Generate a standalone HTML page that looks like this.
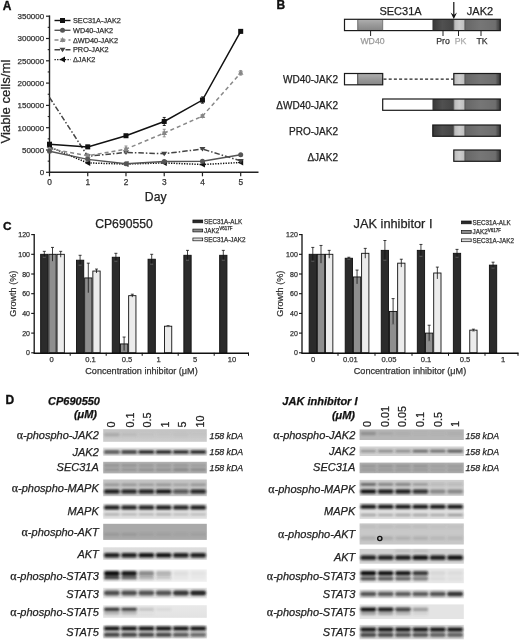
<!DOCTYPE html>
<html><head><meta charset="utf-8"><style>
html,body{margin:0;padding:0;background:#fff;}
svg{display:block;filter:grayscale(1);font-family:"Liberation Sans", sans-serif;}
</style></head><body>
<svg width="520" height="640" viewBox="0 0 520 640">
<defs>
<filter id="blur" x="-20%" y="-50%" width="140%" height="200%"><feGaussianBlur stdDeviation="0.85"/></filter>
<linearGradient id="gWD" x1="0" y1="0" x2="0" y2="1"><stop offset="0" stop-color="#b0b0b0"/><stop offset="0.5" stop-color="#999"/><stop offset="1" stop-color="#868686"/></linearGradient>
<linearGradient id="gPro" x1="0" y1="0" x2="1" y2="0"><stop offset="0" stop-color="#383838"/><stop offset="0.45" stop-color="#505050"/><stop offset="1" stop-color="#444"/></linearGradient>
<linearGradient id="gPK" x1="0" y1="0" x2="1" y2="0"><stop offset="0" stop-color="#b8b8b8"/><stop offset="0.5" stop-color="#cdcdcd"/><stop offset="1" stop-color="#bdbdbd"/></linearGradient>
<linearGradient id="gTK" x1="0" y1="0" x2="1" y2="0"><stop offset="0" stop-color="#666"/><stop offset="0.45" stop-color="#767676"/><stop offset="0.86" stop-color="#6e6e6e"/><stop offset="0.93" stop-color="#505050"/><stop offset="1" stop-color="#3a3a3a"/></linearGradient>
</defs>
<text x="2.80" y="9.90" font-size="12" text-anchor="start" fill="#111" font-weight="bold" font-style="normal" stroke="#111" stroke-width="0.35">A</text>
<line x1="49.50" y1="15.40" x2="49.50" y2="172.90" stroke="#222" stroke-width="1.4" />
<line x1="48.90" y1="172.30" x2="258.50" y2="172.30" stroke="#222" stroke-width="1.4" />
<line x1="46.00" y1="172.30" x2="49.50" y2="172.30" stroke="#222" stroke-width="1.2" />
<text x="44.20" y="175.15" font-size="8" text-anchor="end" fill="#333" font-weight="normal" font-style="normal"  stroke="#333" stroke-width="0.25">0</text>
<line x1="47.70" y1="161.15" x2="49.50" y2="161.15" stroke="#222" stroke-width="1.1" />
<line x1="46.00" y1="150.00" x2="49.50" y2="150.00" stroke="#222" stroke-width="1.2" />
<text x="44.20" y="152.85" font-size="8" text-anchor="end" fill="#333" font-weight="normal" font-style="normal"  stroke="#333" stroke-width="0.25">50000</text>
<line x1="47.70" y1="138.85" x2="49.50" y2="138.85" stroke="#222" stroke-width="1.1" />
<line x1="46.00" y1="127.70" x2="49.50" y2="127.70" stroke="#222" stroke-width="1.2" />
<text x="44.20" y="130.55" font-size="8" text-anchor="end" fill="#333" font-weight="normal" font-style="normal"  stroke="#333" stroke-width="0.25">100000</text>
<line x1="47.70" y1="116.55" x2="49.50" y2="116.55" stroke="#222" stroke-width="1.1" />
<line x1="46.00" y1="105.40" x2="49.50" y2="105.40" stroke="#222" stroke-width="1.2" />
<text x="44.20" y="108.25" font-size="8" text-anchor="end" fill="#333" font-weight="normal" font-style="normal"  stroke="#333" stroke-width="0.25">150000</text>
<line x1="47.70" y1="94.25" x2="49.50" y2="94.25" stroke="#222" stroke-width="1.1" />
<line x1="46.00" y1="83.10" x2="49.50" y2="83.10" stroke="#222" stroke-width="1.2" />
<text x="44.20" y="85.95" font-size="8" text-anchor="end" fill="#333" font-weight="normal" font-style="normal"  stroke="#333" stroke-width="0.25">200000</text>
<line x1="47.70" y1="71.95" x2="49.50" y2="71.95" stroke="#222" stroke-width="1.1" />
<line x1="46.00" y1="60.80" x2="49.50" y2="60.80" stroke="#222" stroke-width="1.2" />
<text x="44.20" y="63.65" font-size="8" text-anchor="end" fill="#333" font-weight="normal" font-style="normal"  stroke="#333" stroke-width="0.25">250000</text>
<line x1="47.70" y1="49.65" x2="49.50" y2="49.65" stroke="#222" stroke-width="1.1" />
<line x1="46.00" y1="38.50" x2="49.50" y2="38.50" stroke="#222" stroke-width="1.2" />
<text x="44.20" y="41.35" font-size="8" text-anchor="end" fill="#333" font-weight="normal" font-style="normal"  stroke="#333" stroke-width="0.25">300000</text>
<line x1="47.70" y1="27.35" x2="49.50" y2="27.35" stroke="#222" stroke-width="1.1" />
<line x1="46.00" y1="16.20" x2="49.50" y2="16.20" stroke="#222" stroke-width="1.2" />
<text x="44.20" y="19.05" font-size="8" text-anchor="end" fill="#333" font-weight="normal" font-style="normal"  stroke="#333" stroke-width="0.25">350000</text>
<line x1="49.50" y1="172.30" x2="49.50" y2="176.30" stroke="#222" stroke-width="1.2" />
<text x="49.50" y="184.50" font-size="8.3" text-anchor="middle" fill="#333" font-weight="normal" font-style="normal"  stroke="#333" stroke-width="0.25">0</text>
<line x1="87.74" y1="172.30" x2="87.74" y2="176.30" stroke="#222" stroke-width="1.2" />
<text x="87.74" y="184.50" font-size="8.3" text-anchor="middle" fill="#333" font-weight="normal" font-style="normal"  stroke="#333" stroke-width="0.25">1</text>
<line x1="125.98" y1="172.30" x2="125.98" y2="176.30" stroke="#222" stroke-width="1.2" />
<text x="125.98" y="184.50" font-size="8.3" text-anchor="middle" fill="#333" font-weight="normal" font-style="normal"  stroke="#333" stroke-width="0.25">2</text>
<line x1="164.22" y1="172.30" x2="164.22" y2="176.30" stroke="#222" stroke-width="1.2" />
<text x="164.22" y="184.50" font-size="8.3" text-anchor="middle" fill="#333" font-weight="normal" font-style="normal"  stroke="#333" stroke-width="0.25">3</text>
<line x1="202.46" y1="172.30" x2="202.46" y2="176.30" stroke="#222" stroke-width="1.2" />
<text x="202.46" y="184.50" font-size="8.3" text-anchor="middle" fill="#333" font-weight="normal" font-style="normal"  stroke="#333" stroke-width="0.25">4</text>
<line x1="240.70" y1="172.30" x2="240.70" y2="176.30" stroke="#222" stroke-width="1.2" />
<text x="240.70" y="184.50" font-size="8.3" text-anchor="middle" fill="#333" font-weight="normal" font-style="normal"  stroke="#333" stroke-width="0.25">5</text>
<text x="155.70" y="201.30" font-size="12.2" text-anchor="middle" fill="#222" font-weight="normal" font-style="normal"  stroke="#222" stroke-width="0.25">Day</text>
<text transform="translate(10.2,101.6) rotate(-90)" font-size="13.2" text-anchor="middle" fill="#222" stroke="#222" stroke-width="0.25">Viable cells/ml</text>
<polyline points="49.50,146.88 87.74,162.93 125.98,164.05 164.22,162.93 202.46,164.50 240.70,162.49" fill="none" stroke="#111" stroke-width="1.5" stroke-dasharray="1.3,1.3"/>
<path d="M46.50,146.88 L52.00,143.88 L52.00,149.88Z" fill="#111"/>
<path d="M84.74,162.93 L90.24,159.93 L90.24,165.93Z" fill="#111"/>
<path d="M122.98,164.05 L128.48,161.05 L128.48,167.05Z" fill="#111"/>
<path d="M161.22,162.93 L166.72,159.93 L166.72,165.93Z" fill="#111"/>
<path d="M199.46,164.50 L204.96,161.50 L204.96,167.50Z" fill="#111"/>
<path d="M237.70,162.49 L243.20,159.49 L243.20,165.49Z" fill="#111"/>
<polyline points="49.50,97.37 87.74,156.24 125.98,152.45 164.22,153.70 202.46,149.02 240.70,160.88" fill="none" stroke="#444" stroke-width="1.5" stroke-dasharray="5.5,2,1.5,2"/>
<path d="M84.74,154.24 L90.74,154.24 L87.74,158.74Z" fill="#444"/>
<path d="M122.98,150.45 L128.98,150.45 L125.98,154.95Z" fill="#444"/>
<path d="M161.22,151.70 L167.22,151.70 L164.22,156.20Z" fill="#444"/>
<path d="M199.46,147.02 L205.46,147.02 L202.46,151.52Z" fill="#444"/>
<path d="M237.70,158.88 L243.70,158.88 L240.70,163.38Z" fill="#444"/>
<polyline points="49.50,148.66 87.74,155.80 125.98,149.11 164.22,133.05 202.46,116.10 240.70,72.84" fill="none" stroke="#888" stroke-width="1.5" stroke-dasharray="4,3"/>
<path d="M49.50,145.66 L52.30,150.66 L46.70,150.66Z" fill="#888"/>
<path d="M49.50,151.46 L52.00,147.16 L47.00,147.16Z" fill="#888" opacity="0.7"/>
<line x1="87.74" y1="154.01" x2="87.74" y2="157.58" stroke="#888" stroke-width="0.9" />
<line x1="86.24" y1="154.01" x2="89.24" y2="154.01" stroke="#888" stroke-width="0.9" />
<line x1="86.24" y1="157.58" x2="89.24" y2="157.58" stroke="#888" stroke-width="0.9" />
<path d="M87.74,152.80 L90.54,157.80 L84.94,157.80Z" fill="#888"/>
<path d="M87.74,158.60 L90.24,154.30 L85.24,154.30Z" fill="#888" opacity="0.7"/>
<line x1="125.98" y1="145.99" x2="125.98" y2="152.23" stroke="#888" stroke-width="0.9" />
<line x1="124.48" y1="145.99" x2="127.48" y2="145.99" stroke="#888" stroke-width="0.9" />
<line x1="124.48" y1="152.23" x2="127.48" y2="152.23" stroke="#888" stroke-width="0.9" />
<path d="M125.98,146.11 L128.78,151.11 L123.18,151.11Z" fill="#888"/>
<path d="M125.98,151.91 L128.48,147.61 L123.48,147.61Z" fill="#888" opacity="0.7"/>
<line x1="164.22" y1="129.26" x2="164.22" y2="136.84" stroke="#888" stroke-width="0.9" />
<line x1="162.72" y1="129.26" x2="165.72" y2="129.26" stroke="#888" stroke-width="0.9" />
<line x1="162.72" y1="136.84" x2="165.72" y2="136.84" stroke="#888" stroke-width="0.9" />
<path d="M164.22,130.05 L167.02,135.05 L161.42,135.05Z" fill="#888"/>
<path d="M164.22,135.85 L166.72,131.55 L161.72,131.55Z" fill="#888" opacity="0.7"/>
<line x1="202.46" y1="114.77" x2="202.46" y2="117.44" stroke="#888" stroke-width="0.9" />
<line x1="200.96" y1="114.77" x2="203.96" y2="114.77" stroke="#888" stroke-width="0.9" />
<line x1="200.96" y1="117.44" x2="203.96" y2="117.44" stroke="#888" stroke-width="0.9" />
<path d="M202.46,113.10 L205.26,118.10 L199.66,118.10Z" fill="#888"/>
<path d="M202.46,118.90 L204.96,114.60 L199.96,114.60Z" fill="#888" opacity="0.7"/>
<line x1="240.70" y1="70.61" x2="240.70" y2="75.07" stroke="#888" stroke-width="0.9" />
<line x1="239.20" y1="70.61" x2="242.20" y2="70.61" stroke="#888" stroke-width="0.9" />
<line x1="239.20" y1="75.07" x2="242.20" y2="75.07" stroke="#888" stroke-width="0.9" />
<path d="M240.70,69.84 L243.50,74.84 L237.90,74.84Z" fill="#888"/>
<path d="M240.70,75.64 L243.20,71.34 L238.20,71.34Z" fill="#888" opacity="0.7"/>
<polyline points="49.50,151.34 87.74,159.37 125.98,163.83 164.22,161.60 202.46,161.15 240.70,154.68" fill="none" stroke="#555" stroke-width="1.5" />
<circle cx="49.50" cy="151.34" r="2.5" fill="#555"/>
<circle cx="87.74" cy="159.37" r="2.5" fill="#555"/>
<circle cx="125.98" cy="163.83" r="2.5" fill="#555"/>
<circle cx="164.22" cy="161.60" r="2.5" fill="#555"/>
<circle cx="202.46" cy="161.15" r="2.5" fill="#555"/>
<circle cx="240.70" cy="154.68" r="2.5" fill="#555"/>
<polyline points="49.50,144.20 87.74,146.88 125.98,135.73 164.22,121.46 202.46,100.05 240.70,31.36" fill="none" stroke="#111" stroke-width="1.5" />
<rect x="47.00" y="141.70" width="5.00" height="5.00" fill="#111" stroke="none" stroke-width="1" />
<line x1="87.74" y1="145.32" x2="87.74" y2="148.44" stroke="#111" stroke-width="0.9" />
<line x1="86.24" y1="145.32" x2="89.24" y2="145.32" stroke="#111" stroke-width="0.9" />
<line x1="86.24" y1="148.44" x2="89.24" y2="148.44" stroke="#111" stroke-width="0.9" />
<rect x="85.24" y="144.38" width="5.00" height="5.00" fill="#111" stroke="none" stroke-width="1" />
<line x1="125.98" y1="134.61" x2="125.98" y2="136.84" stroke="#111" stroke-width="0.9" />
<line x1="124.48" y1="134.61" x2="127.48" y2="134.61" stroke="#111" stroke-width="0.9" />
<line x1="124.48" y1="136.84" x2="127.48" y2="136.84" stroke="#111" stroke-width="0.9" />
<rect x="123.48" y="133.23" width="5.00" height="5.00" fill="#111" stroke="none" stroke-width="1" />
<line x1="164.22" y1="117.44" x2="164.22" y2="125.47" stroke="#111" stroke-width="0.9" />
<line x1="162.72" y1="117.44" x2="165.72" y2="117.44" stroke="#111" stroke-width="0.9" />
<line x1="162.72" y1="125.47" x2="165.72" y2="125.47" stroke="#111" stroke-width="0.9" />
<rect x="161.72" y="118.96" width="5.00" height="5.00" fill="#111" stroke="none" stroke-width="1" />
<line x1="202.46" y1="96.93" x2="202.46" y2="103.17" stroke="#111" stroke-width="0.9" />
<line x1="200.96" y1="96.93" x2="203.96" y2="96.93" stroke="#111" stroke-width="0.9" />
<line x1="200.96" y1="103.17" x2="203.96" y2="103.17" stroke="#111" stroke-width="0.9" />
<rect x="199.96" y="97.55" width="5.00" height="5.00" fill="#111" stroke="none" stroke-width="1" />
<line x1="240.70" y1="30.03" x2="240.70" y2="32.70" stroke="#111" stroke-width="0.9" />
<line x1="239.20" y1="30.03" x2="242.20" y2="30.03" stroke="#111" stroke-width="0.9" />
<line x1="239.20" y1="32.70" x2="242.20" y2="32.70" stroke="#111" stroke-width="0.9" />
<rect x="238.20" y="28.86" width="5.00" height="5.00" fill="#111" stroke="none" stroke-width="1" />
<line x1="54.5" y1="20.5" x2="70.5" y2="20.5" stroke="#111" stroke-width="1.4" />
<rect x="60.00" y="18.00" width="5.00" height="5.00" fill="#111" stroke="none" stroke-width="1" />
<text x="73.00" y="23.10" font-size="7.3" text-anchor="start" fill="#333" font-weight="normal" font-style="normal"  stroke="#333" stroke-width="0.25">SEC31A-JAK2</text>
<line x1="54.5" y1="30.3" x2="70.5" y2="30.3" stroke="#555" stroke-width="1.4" />
<circle cx="62.50" cy="30.30" r="2.5" fill="#555"/>
<text x="73.00" y="32.90" font-size="7.3" text-anchor="start" fill="#333" font-weight="normal" font-style="normal"  stroke="#333" stroke-width="0.25">WD40-JAK2</text>
<line x1="54.5" y1="40.0" x2="70.5" y2="40.0" stroke="#888" stroke-width="1.4" stroke-dasharray="4,3"/>
<path d="M62.50,37.00 L65.30,42.00 L59.70,42.00Z" fill="#888"/>
<path d="M62.50,42.80 L65.00,38.50 L60.00,38.50Z" fill="#888" opacity="0.7"/>
<text x="73.00" y="42.60" font-size="7.3" text-anchor="start" fill="#333" font-weight="normal" font-style="normal"  stroke="#333" stroke-width="0.25">ΔWD40-JAK2</text>
<line x1="54.5" y1="49.8" x2="70.5" y2="49.8" stroke="#444" stroke-width="1.4" stroke-dasharray="5.5,2,1.5,2"/>
<path d="M59.50,47.80 L65.50,47.80 L62.50,52.30Z" fill="#444"/>
<text x="73.00" y="52.40" font-size="7.3" text-anchor="start" fill="#333" font-weight="normal" font-style="normal"  stroke="#333" stroke-width="0.25">PRO-JAK2</text>
<line x1="54.5" y1="59.6" x2="70.5" y2="59.6" stroke="#111" stroke-width="1.4" stroke-dasharray="1.3,1.3"/>
<path d="M59.50,59.60 L65.00,56.60 L65.00,62.60Z" fill="#111"/>
<text x="73.00" y="62.20" font-size="7.3" text-anchor="start" fill="#333" font-weight="normal" font-style="normal"  stroke="#333" stroke-width="0.25">ΔJAK2</text>
<text x="276.60" y="8.60" font-size="12" text-anchor="start" fill="#111" font-weight="bold" font-style="normal" stroke="#111" stroke-width="0.35">B</text>
<rect x="344.50" y="19.30" width="13.20" height="11.30" fill="#fff" stroke="none" stroke-width="1" />
<rect x="357.70" y="19.30" width="25.00" height="11.30" fill="url(#gWD)" stroke="none" stroke-width="1" />
<rect x="382.70" y="19.30" width="50.10" height="11.30" fill="#fff" stroke="none" stroke-width="1" />
<rect x="432.80" y="19.30" width="21.00" height="11.30" fill="url(#gPro)" stroke="none" stroke-width="1" />
<rect x="453.80" y="19.30" width="11.00" height="11.30" fill="url(#gPK)" stroke="none" stroke-width="1" />
<rect x="464.80" y="19.30" width="35.50" height="11.30" fill="url(#gTK)" stroke="none" stroke-width="1" />
<rect x="344.50" y="19.30" width="155.80" height="11.30" fill="none" stroke="#1a1a1a" stroke-width="1.2" />
<line x1="357.70" y1="19.30" x2="357.70" y2="30.60" stroke="#333" stroke-width="0.6" />
<line x1="382.70" y1="19.30" x2="382.70" y2="30.60" stroke="#333" stroke-width="0.6" />
<line x1="432.80" y1="19.30" x2="432.80" y2="30.60" stroke="#333" stroke-width="0.6" />
<line x1="453.80" y1="19.30" x2="453.80" y2="30.60" stroke="#333" stroke-width="0.6" />
<line x1="464.80" y1="19.30" x2="464.80" y2="30.60" stroke="#333" stroke-width="0.6" />
<rect x="344.50" y="73.50" width="13.20" height="11.30" fill="#fff" stroke="none" stroke-width="1" />
<rect x="357.70" y="73.50" width="25.00" height="11.30" fill="url(#gWD)" stroke="none" stroke-width="1" />
<rect x="453.80" y="73.50" width="11.00" height="11.30" fill="url(#gPK)" stroke="none" stroke-width="1" />
<rect x="464.80" y="73.50" width="35.50" height="11.30" fill="url(#gTK)" stroke="none" stroke-width="1" />
<rect x="344.50" y="73.50" width="38.20" height="11.30" fill="none" stroke="#1a1a1a" stroke-width="1.2" />
<line x1="357.70" y1="73.50" x2="357.70" y2="84.80" stroke="#222" stroke-width="0.8" />
<rect x="453.80" y="73.50" width="46.50" height="11.30" fill="none" stroke="#1a1a1a" stroke-width="1.2" />
<line x1="464.80" y1="73.50" x2="464.80" y2="84.80" stroke="#333" stroke-width="0.6" />
<line x1="383.50" y1="79.15" x2="453.30" y2="79.15" stroke="#222" stroke-width="1.2" stroke-dasharray="3,2.2"/>
<rect x="382.70" y="99.00" width="50.10" height="11.30" fill="#fff" stroke="none" stroke-width="1" />
<rect x="432.80" y="99.00" width="21.00" height="11.30" fill="url(#gPro)" stroke="none" stroke-width="1" />
<rect x="453.80" y="99.00" width="11.00" height="11.30" fill="url(#gPK)" stroke="none" stroke-width="1" />
<rect x="464.80" y="99.00" width="35.50" height="11.30" fill="url(#gTK)" stroke="none" stroke-width="1" />
<rect x="382.70" y="99.00" width="117.60" height="11.30" fill="none" stroke="#1a1a1a" stroke-width="1.2" />
<line x1="432.80" y1="99.00" x2="432.80" y2="110.30" stroke="#333" stroke-width="0.6" />
<line x1="453.80" y1="99.00" x2="453.80" y2="110.30" stroke="#333" stroke-width="0.6" />
<line x1="464.80" y1="99.00" x2="464.80" y2="110.30" stroke="#333" stroke-width="0.6" />
<rect x="432.80" y="125.00" width="21.00" height="11.30" fill="url(#gPro)" stroke="none" stroke-width="1" />
<rect x="453.80" y="125.00" width="11.00" height="11.30" fill="url(#gPK)" stroke="none" stroke-width="1" />
<rect x="464.80" y="125.00" width="35.50" height="11.30" fill="url(#gTK)" stroke="none" stroke-width="1" />
<rect x="432.80" y="125.00" width="67.50" height="11.30" fill="none" stroke="#1a1a1a" stroke-width="1.2" />
<line x1="453.80" y1="125.00" x2="453.80" y2="136.30" stroke="#333" stroke-width="0.6" />
<line x1="464.80" y1="125.00" x2="464.80" y2="136.30" stroke="#333" stroke-width="0.6" />
<rect x="453.80" y="150.00" width="11.00" height="11.30" fill="url(#gPK)" stroke="none" stroke-width="1" />
<rect x="464.80" y="150.00" width="35.50" height="11.30" fill="url(#gTK)" stroke="none" stroke-width="1" />
<rect x="453.80" y="150.00" width="46.50" height="11.30" fill="none" stroke="#1a1a1a" stroke-width="1.2" />
<line x1="464.80" y1="150.00" x2="464.80" y2="161.30" stroke="#333" stroke-width="0.6" />
<text x="400.50" y="15.00" font-size="11" text-anchor="middle" fill="#222" font-weight="normal" font-style="normal"  stroke="#222" stroke-width="0.25">SEC31A</text>
<text x="480.00" y="15.00" font-size="11" text-anchor="middle" fill="#222" font-weight="normal" font-style="normal"  stroke="#222" stroke-width="0.25">JAK2</text>
<line x1="453.80" y1="2.00" x2="453.80" y2="16.00" stroke="#111" stroke-width="1.2" />
<path d="M450.6,12.5 L453.8,19 L457,12.5 L453.8,15Z" fill="#111"/>
<line x1="370.60" y1="30.60" x2="370.60" y2="36.00" stroke="#222" stroke-width="1" />
<line x1="443.00" y1="30.60" x2="443.00" y2="36.00" stroke="#222" stroke-width="1" />
<line x1="458.50" y1="30.60" x2="458.50" y2="36.00" stroke="#222" stroke-width="1" />
<line x1="481.00" y1="30.60" x2="481.00" y2="36.00" stroke="#222" stroke-width="1" />
<text x="372.50" y="44.30" font-size="8.7" text-anchor="middle" fill="#999" font-weight="normal" font-style="normal"  stroke="#999" stroke-width="0.25">WD40</text>
<text x="443.00" y="44.30" font-size="8.7" text-anchor="middle" fill="#333" font-weight="normal" font-style="normal"  stroke="#333" stroke-width="0.25">Pro</text>
<text x="460.50" y="44.30" font-size="8.7" text-anchor="middle" fill="#aaa" font-weight="normal" font-style="normal"  stroke="#aaa" stroke-width="0.25">PK</text>
<text x="482.00" y="44.30" font-size="8.7" text-anchor="middle" fill="#333" font-weight="normal" font-style="normal"  stroke="#333" stroke-width="0.25">TK</text>
<text x="338.00" y="83.10" font-size="10" text-anchor="end" fill="#222" font-weight="normal" font-style="normal"  stroke="#222" stroke-width="0.25">WD40-JAK2</text>
<text x="338.00" y="109.10" font-size="10" text-anchor="end" fill="#222" font-weight="normal" font-style="normal"  stroke="#222" stroke-width="0.25">ΔWD40-JAK2</text>
<text x="338.00" y="134.90" font-size="10" text-anchor="end" fill="#222" font-weight="normal" font-style="normal"  stroke="#222" stroke-width="0.25">PRO-JAK2</text>
<text x="338.00" y="160.60" font-size="10" text-anchor="end" fill="#222" font-weight="normal" font-style="normal"  stroke="#222" stroke-width="0.25">ΔJAK2</text>
<text x="3.00" y="229.60" font-size="11.8" text-anchor="start" fill="#111" font-weight="bold" font-style="normal" stroke="#111" stroke-width="0.35">C</text>
<rect x="40.65" y="254.30" width="7.30" height="98.50" fill="#2b2b2b" stroke="#111" stroke-width="0.9" />
<line x1="44.30" y1="251.34" x2="44.30" y2="257.25" stroke="#111" stroke-width="0.8" />
<line x1="42.80" y1="251.34" x2="45.80" y2="251.34" stroke="#111" stroke-width="0.8" />
<line x1="42.80" y1="257.25" x2="45.80" y2="257.25" stroke="#777" stroke-width="0.7" />
<rect x="48.85" y="254.30" width="7.30" height="98.50" fill="#8e8e8e" stroke="#111" stroke-width="0.9" />
<line x1="52.50" y1="247.41" x2="52.50" y2="261.19" stroke="#111" stroke-width="0.8" />
<line x1="51.00" y1="247.41" x2="54.00" y2="247.41" stroke="#111" stroke-width="0.8" />
<rect x="57.05" y="254.30" width="7.30" height="98.50" fill="#ececec" stroke="#111" stroke-width="0.9" />
<line x1="60.70" y1="251.34" x2="60.70" y2="257.25" stroke="#111" stroke-width="0.8" />
<line x1="59.20" y1="251.34" x2="62.20" y2="251.34" stroke="#111" stroke-width="0.8" />
<rect x="76.45" y="260.21" width="7.30" height="92.59" fill="#2b2b2b" stroke="#111" stroke-width="0.9" />
<line x1="80.10" y1="255.29" x2="80.10" y2="265.14" stroke="#111" stroke-width="0.8" />
<line x1="78.60" y1="255.29" x2="81.60" y2="255.29" stroke="#111" stroke-width="0.8" />
<line x1="78.60" y1="265.14" x2="81.60" y2="265.14" stroke="#777" stroke-width="0.7" />
<rect x="84.65" y="277.94" width="7.30" height="74.86" fill="#8e8e8e" stroke="#111" stroke-width="0.9" />
<line x1="88.30" y1="263.17" x2="88.30" y2="292.71" stroke="#111" stroke-width="0.8" />
<line x1="86.80" y1="263.17" x2="89.80" y2="263.17" stroke="#111" stroke-width="0.8" />
<rect x="92.85" y="271.05" width="7.30" height="81.75" fill="#ececec" stroke="#111" stroke-width="0.9" />
<line x1="96.50" y1="269.07" x2="96.50" y2="273.02" stroke="#111" stroke-width="0.8" />
<line x1="95.00" y1="269.07" x2="98.00" y2="269.07" stroke="#111" stroke-width="0.8" />
<rect x="112.25" y="257.25" width="7.30" height="95.55" fill="#2b2b2b" stroke="#111" stroke-width="0.9" />
<line x1="115.90" y1="253.31" x2="115.90" y2="261.19" stroke="#111" stroke-width="0.8" />
<line x1="114.40" y1="253.31" x2="117.40" y2="253.31" stroke="#111" stroke-width="0.8" />
<line x1="114.40" y1="261.19" x2="117.40" y2="261.19" stroke="#777" stroke-width="0.7" />
<rect x="120.45" y="343.94" width="7.30" height="8.87" fill="#8e8e8e" stroke="#111" stroke-width="0.9" />
<line x1="124.10" y1="337.04" x2="124.10" y2="350.83" stroke="#111" stroke-width="0.8" />
<line x1="122.60" y1="337.04" x2="125.60" y2="337.04" stroke="#111" stroke-width="0.8" />
<line x1="122.60" y1="350.83" x2="125.60" y2="350.83" stroke="#777" stroke-width="0.7" />
<rect x="128.65" y="295.67" width="7.30" height="57.13" fill="#ececec" stroke="#111" stroke-width="0.9" />
<line x1="132.30" y1="294.19" x2="132.30" y2="297.15" stroke="#111" stroke-width="0.8" />
<line x1="130.80" y1="294.19" x2="133.80" y2="294.19" stroke="#111" stroke-width="0.8" />
<rect x="148.05" y="259.23" width="7.30" height="93.58" fill="#2b2b2b" stroke="#111" stroke-width="0.9" />
<line x1="151.70" y1="254.30" x2="151.70" y2="264.15" stroke="#111" stroke-width="0.8" />
<line x1="150.20" y1="254.30" x2="153.20" y2="254.30" stroke="#111" stroke-width="0.8" />
<line x1="150.20" y1="264.15" x2="153.20" y2="264.15" stroke="#777" stroke-width="0.7" />
<rect x="164.45" y="326.21" width="7.30" height="26.59" fill="#ececec" stroke="#111" stroke-width="0.9" />
<line x1="168.10" y1="325.71" x2="168.10" y2="326.70" stroke="#111" stroke-width="0.8" />
<line x1="166.60" y1="325.71" x2="169.60" y2="325.71" stroke="#111" stroke-width="0.8" />
<line x1="166.60" y1="326.70" x2="169.60" y2="326.70" stroke="#777" stroke-width="0.7" />
<rect x="183.85" y="255.29" width="7.30" height="97.52" fill="#2b2b2b" stroke="#111" stroke-width="0.9" />
<line x1="187.50" y1="250.36" x2="187.50" y2="260.21" stroke="#111" stroke-width="0.8" />
<line x1="186.00" y1="250.36" x2="189.00" y2="250.36" stroke="#111" stroke-width="0.8" />
<line x1="186.00" y1="260.21" x2="189.00" y2="260.21" stroke="#777" stroke-width="0.7" />
<rect x="219.65" y="255.29" width="7.30" height="97.52" fill="#2b2b2b" stroke="#111" stroke-width="0.9" />
<line x1="223.30" y1="250.36" x2="223.30" y2="260.21" stroke="#111" stroke-width="0.8" />
<line x1="221.80" y1="250.36" x2="224.80" y2="250.36" stroke="#111" stroke-width="0.8" />
<line x1="221.80" y1="260.21" x2="224.80" y2="260.21" stroke="#777" stroke-width="0.7" />
<line x1="34.20" y1="234.10" x2="34.20" y2="353.40" stroke="#111" stroke-width="1.3" />
<line x1="33.60" y1="353.30" x2="249.00" y2="353.30" stroke="#111" stroke-width="1.5" />
<line x1="31.20" y1="352.80" x2="34.20" y2="352.80" stroke="#111" stroke-width="1.1" />
<text x="30.00" y="355.30" font-size="7" text-anchor="end" fill="#333" font-weight="normal" font-style="normal"  stroke="#333" stroke-width="0.25">0</text>
<line x1="31.20" y1="333.10" x2="34.20" y2="333.10" stroke="#111" stroke-width="1.1" />
<text x="30.00" y="335.60" font-size="7" text-anchor="end" fill="#333" font-weight="normal" font-style="normal"  stroke="#333" stroke-width="0.25">20</text>
<line x1="31.20" y1="313.40" x2="34.20" y2="313.40" stroke="#111" stroke-width="1.1" />
<text x="30.00" y="315.90" font-size="7" text-anchor="end" fill="#333" font-weight="normal" font-style="normal"  stroke="#333" stroke-width="0.25">40</text>
<line x1="31.20" y1="293.70" x2="34.20" y2="293.70" stroke="#111" stroke-width="1.1" />
<text x="30.00" y="296.20" font-size="7" text-anchor="end" fill="#333" font-weight="normal" font-style="normal"  stroke="#333" stroke-width="0.25">60</text>
<line x1="31.20" y1="274.00" x2="34.20" y2="274.00" stroke="#111" stroke-width="1.1" />
<text x="30.00" y="276.50" font-size="7" text-anchor="end" fill="#333" font-weight="normal" font-style="normal"  stroke="#333" stroke-width="0.25">80</text>
<line x1="31.20" y1="254.30" x2="34.20" y2="254.30" stroke="#111" stroke-width="1.1" />
<text x="30.00" y="256.80" font-size="7" text-anchor="end" fill="#333" font-weight="normal" font-style="normal"  stroke="#333" stroke-width="0.25">100</text>
<line x1="31.20" y1="234.60" x2="34.20" y2="234.60" stroke="#111" stroke-width="1.1" />
<text x="30.00" y="237.10" font-size="7" text-anchor="end" fill="#333" font-weight="normal" font-style="normal"  stroke="#333" stroke-width="0.25">120</text>
<line x1="70.20" y1="352.80" x2="70.20" y2="355.80" stroke="#111" stroke-width="1" />
<line x1="106.20" y1="352.80" x2="106.20" y2="355.80" stroke="#111" stroke-width="1" />
<line x1="142.20" y1="352.80" x2="142.20" y2="355.80" stroke="#111" stroke-width="1" />
<line x1="178.20" y1="352.80" x2="178.20" y2="355.80" stroke="#111" stroke-width="1" />
<line x1="214.20" y1="352.80" x2="214.20" y2="355.80" stroke="#111" stroke-width="1" />
<line x1="248.50" y1="352.80" x2="248.50" y2="355.80" stroke="#111" stroke-width="1" />
<text x="51.70" y="361.80" font-size="7.6" text-anchor="middle" fill="#333" font-weight="normal" font-style="normal"  stroke="#333" stroke-width="0.25">0</text>
<text x="90.50" y="361.80" font-size="7.6" text-anchor="middle" fill="#333" font-weight="normal" font-style="normal"  stroke="#333" stroke-width="0.25">0.1</text>
<text x="127.00" y="361.80" font-size="7.6" text-anchor="middle" fill="#333" font-weight="normal" font-style="normal"  stroke="#333" stroke-width="0.25">0.5</text>
<text x="158.50" y="361.80" font-size="7.6" text-anchor="middle" fill="#333" font-weight="normal" font-style="normal"  stroke="#333" stroke-width="0.25">1</text>
<text x="195.00" y="361.80" font-size="7.6" text-anchor="middle" fill="#333" font-weight="normal" font-style="normal"  stroke="#333" stroke-width="0.25">5</text>
<text x="232.00" y="361.80" font-size="7.6" text-anchor="middle" fill="#333" font-weight="normal" font-style="normal"  stroke="#333" stroke-width="0.25">10</text>
<text x="124.00" y="228.30" font-size="12.2" text-anchor="middle" fill="#222" font-weight="normal" font-style="normal"  stroke="#222" stroke-width="0.25">CP690550</text>
<text transform="translate(16.2,293.7) rotate(-90)" font-size="9.1" text-anchor="middle" fill="#333" stroke="#333" stroke-width="0.2">Growth (%)</text>
<text x="141.50" y="374.30" font-size="9.1" text-anchor="middle" fill="#333" font-weight="normal" font-style="normal"  stroke="#333" stroke-width="0.25">Concentration inhibitor (μM)</text>
<rect x="192.90" y="220.00" width="9.80" height="2.80" fill="#2b2b2b" stroke="#111" stroke-width="0.7" />
<text x="204.10" y="223.70" font-size="6.3" text-anchor="start" fill="#333" font-weight="normal" font-style="normal"  stroke="#333" stroke-width="0.25">SEC31A-ALK</text>
<rect x="192.90" y="229.10" width="9.80" height="2.80" fill="#8e8e8e" stroke="#111" stroke-width="0.7" />
<text x="204.10" y="232.80" font-size="6.3" text-anchor="start" fill="#333" font-weight="normal" font-style="normal"  stroke="#333" stroke-width="0.25">JAK2<tspan font-size="4.5" dy="-2.5">V617F</tspan></text>
<rect x="192.90" y="238.00" width="9.80" height="2.80" fill="#ddd" stroke="#111" stroke-width="0.7" />
<text x="204.10" y="241.70" font-size="6.3" text-anchor="start" fill="#333" font-weight="normal" font-style="normal"  stroke="#333" stroke-width="0.25">SEC31A-JAK2</text>
<rect x="309.15" y="254.30" width="7.30" height="98.50" fill="#2b2b2b" stroke="#111" stroke-width="0.9" />
<line x1="312.80" y1="247.41" x2="312.80" y2="261.19" stroke="#111" stroke-width="0.8" />
<line x1="311.30" y1="247.41" x2="314.30" y2="247.41" stroke="#111" stroke-width="0.8" />
<line x1="311.30" y1="261.19" x2="314.30" y2="261.19" stroke="#777" stroke-width="0.7" />
<rect x="317.35" y="254.30" width="7.30" height="98.50" fill="#8e8e8e" stroke="#111" stroke-width="0.9" />
<line x1="321.00" y1="245.44" x2="321.00" y2="263.17" stroke="#111" stroke-width="0.8" />
<line x1="319.50" y1="245.44" x2="322.50" y2="245.44" stroke="#111" stroke-width="0.8" />
<rect x="325.55" y="254.30" width="7.30" height="98.50" fill="#ececec" stroke="#111" stroke-width="0.9" />
<line x1="329.20" y1="250.36" x2="329.20" y2="258.24" stroke="#111" stroke-width="0.8" />
<line x1="327.70" y1="250.36" x2="330.70" y2="250.36" stroke="#111" stroke-width="0.8" />
<rect x="345.20" y="258.24" width="7.30" height="94.56" fill="#2b2b2b" stroke="#111" stroke-width="0.9" />
<line x1="348.85" y1="257.25" x2="348.85" y2="259.23" stroke="#111" stroke-width="0.8" />
<line x1="347.35" y1="257.25" x2="350.35" y2="257.25" stroke="#111" stroke-width="0.8" />
<line x1="347.35" y1="259.23" x2="350.35" y2="259.23" stroke="#777" stroke-width="0.7" />
<rect x="353.40" y="276.96" width="7.30" height="75.84" fill="#8e8e8e" stroke="#111" stroke-width="0.9" />
<line x1="357.05" y1="270.06" x2="357.05" y2="283.85" stroke="#111" stroke-width="0.8" />
<line x1="355.55" y1="270.06" x2="358.55" y2="270.06" stroke="#111" stroke-width="0.8" />
<rect x="361.60" y="253.31" width="7.30" height="99.48" fill="#ececec" stroke="#111" stroke-width="0.9" />
<line x1="365.25" y1="248.39" x2="365.25" y2="258.24" stroke="#111" stroke-width="0.8" />
<line x1="363.75" y1="248.39" x2="366.75" y2="248.39" stroke="#111" stroke-width="0.8" />
<rect x="381.25" y="250.36" width="7.30" height="102.44" fill="#2b2b2b" stroke="#111" stroke-width="0.9" />
<line x1="384.90" y1="240.51" x2="384.90" y2="260.21" stroke="#111" stroke-width="0.8" />
<line x1="383.40" y1="240.51" x2="386.40" y2="240.51" stroke="#111" stroke-width="0.8" />
<line x1="383.40" y1="260.21" x2="386.40" y2="260.21" stroke="#777" stroke-width="0.7" />
<rect x="389.45" y="311.43" width="7.30" height="41.37" fill="#8e8e8e" stroke="#111" stroke-width="0.9" />
<line x1="393.10" y1="298.62" x2="393.10" y2="324.24" stroke="#111" stroke-width="0.8" />
<line x1="391.60" y1="298.62" x2="394.60" y2="298.62" stroke="#111" stroke-width="0.8" />
<line x1="391.60" y1="324.24" x2="394.60" y2="324.24" stroke="#777" stroke-width="0.7" />
<rect x="397.65" y="263.17" width="7.30" height="89.64" fill="#ececec" stroke="#111" stroke-width="0.9" />
<line x1="401.30" y1="259.23" x2="401.30" y2="267.11" stroke="#111" stroke-width="0.8" />
<line x1="399.80" y1="259.23" x2="402.80" y2="259.23" stroke="#111" stroke-width="0.8" />
<rect x="417.30" y="250.36" width="7.30" height="102.44" fill="#2b2b2b" stroke="#111" stroke-width="0.9" />
<line x1="420.95" y1="244.45" x2="420.95" y2="256.27" stroke="#111" stroke-width="0.8" />
<line x1="419.45" y1="244.45" x2="422.45" y2="244.45" stroke="#111" stroke-width="0.8" />
<line x1="419.45" y1="256.27" x2="422.45" y2="256.27" stroke="#777" stroke-width="0.7" />
<rect x="425.50" y="333.10" width="7.30" height="19.70" fill="#8e8e8e" stroke="#111" stroke-width="0.9" />
<line x1="429.15" y1="325.22" x2="429.15" y2="340.98" stroke="#111" stroke-width="0.8" />
<line x1="427.65" y1="325.22" x2="430.65" y2="325.22" stroke="#111" stroke-width="0.8" />
<line x1="427.65" y1="340.98" x2="430.65" y2="340.98" stroke="#777" stroke-width="0.7" />
<rect x="433.70" y="273.01" width="7.30" height="79.78" fill="#ececec" stroke="#111" stroke-width="0.9" />
<line x1="437.35" y1="267.10" x2="437.35" y2="278.93" stroke="#111" stroke-width="0.8" />
<line x1="435.85" y1="267.10" x2="438.85" y2="267.10" stroke="#111" stroke-width="0.8" />
<rect x="453.35" y="253.31" width="7.30" height="99.48" fill="#2b2b2b" stroke="#111" stroke-width="0.9" />
<line x1="457.00" y1="249.38" x2="457.00" y2="257.25" stroke="#111" stroke-width="0.8" />
<line x1="455.50" y1="249.38" x2="458.50" y2="249.38" stroke="#111" stroke-width="0.8" />
<line x1="455.50" y1="257.25" x2="458.50" y2="257.25" stroke="#777" stroke-width="0.7" />
<rect x="469.75" y="330.14" width="7.30" height="22.66" fill="#ececec" stroke="#111" stroke-width="0.9" />
<line x1="473.40" y1="329.16" x2="473.40" y2="331.13" stroke="#111" stroke-width="0.8" />
<line x1="471.90" y1="329.16" x2="474.90" y2="329.16" stroke="#111" stroke-width="0.8" />
<line x1="471.90" y1="331.13" x2="474.90" y2="331.13" stroke="#777" stroke-width="0.7" />
<rect x="489.40" y="265.13" width="7.30" height="87.66" fill="#2b2b2b" stroke="#111" stroke-width="0.9" />
<line x1="493.05" y1="262.18" x2="493.05" y2="268.09" stroke="#111" stroke-width="0.8" />
<line x1="491.55" y1="262.18" x2="494.55" y2="262.18" stroke="#111" stroke-width="0.8" />
<line x1="491.55" y1="268.09" x2="494.55" y2="268.09" stroke="#777" stroke-width="0.7" />
<line x1="302.00" y1="234.10" x2="302.00" y2="353.40" stroke="#111" stroke-width="1.3" />
<line x1="301.40" y1="353.30" x2="518.50" y2="353.30" stroke="#111" stroke-width="1.5" />
<line x1="299.00" y1="352.80" x2="302.00" y2="352.80" stroke="#111" stroke-width="1.1" />
<text x="297.80" y="355.30" font-size="7" text-anchor="end" fill="#333" font-weight="normal" font-style="normal"  stroke="#333" stroke-width="0.25">0</text>
<line x1="299.00" y1="333.10" x2="302.00" y2="333.10" stroke="#111" stroke-width="1.1" />
<text x="297.80" y="335.60" font-size="7" text-anchor="end" fill="#333" font-weight="normal" font-style="normal"  stroke="#333" stroke-width="0.25">20</text>
<line x1="299.00" y1="313.40" x2="302.00" y2="313.40" stroke="#111" stroke-width="1.1" />
<text x="297.80" y="315.90" font-size="7" text-anchor="end" fill="#333" font-weight="normal" font-style="normal"  stroke="#333" stroke-width="0.25">40</text>
<line x1="299.00" y1="293.70" x2="302.00" y2="293.70" stroke="#111" stroke-width="1.1" />
<text x="297.80" y="296.20" font-size="7" text-anchor="end" fill="#333" font-weight="normal" font-style="normal"  stroke="#333" stroke-width="0.25">60</text>
<line x1="299.00" y1="274.00" x2="302.00" y2="274.00" stroke="#111" stroke-width="1.1" />
<text x="297.80" y="276.50" font-size="7" text-anchor="end" fill="#333" font-weight="normal" font-style="normal"  stroke="#333" stroke-width="0.25">80</text>
<line x1="299.00" y1="254.30" x2="302.00" y2="254.30" stroke="#111" stroke-width="1.1" />
<text x="297.80" y="256.80" font-size="7" text-anchor="end" fill="#333" font-weight="normal" font-style="normal"  stroke="#333" stroke-width="0.25">100</text>
<line x1="299.00" y1="234.60" x2="302.00" y2="234.60" stroke="#111" stroke-width="1.1" />
<text x="297.80" y="237.10" font-size="7" text-anchor="end" fill="#333" font-weight="normal" font-style="normal"  stroke="#333" stroke-width="0.25">120</text>
<line x1="338.00" y1="352.80" x2="338.00" y2="355.80" stroke="#111" stroke-width="1" />
<line x1="375.00" y1="352.80" x2="375.00" y2="355.80" stroke="#111" stroke-width="1" />
<line x1="412.00" y1="352.80" x2="412.00" y2="355.80" stroke="#111" stroke-width="1" />
<line x1="448.50" y1="352.80" x2="448.50" y2="355.80" stroke="#111" stroke-width="1" />
<line x1="485.00" y1="352.80" x2="485.00" y2="355.80" stroke="#111" stroke-width="1" />
<line x1="518.00" y1="352.80" x2="518.00" y2="355.80" stroke="#111" stroke-width="1" />
<text x="313.00" y="361.80" font-size="7.6" text-anchor="middle" fill="#333" font-weight="normal" font-style="normal"  stroke="#333" stroke-width="0.25">0</text>
<text x="350.30" y="361.80" font-size="7.6" text-anchor="middle" fill="#333" font-weight="normal" font-style="normal"  stroke="#333" stroke-width="0.25">0.01</text>
<text x="389.00" y="361.80" font-size="7.6" text-anchor="middle" fill="#333" font-weight="normal" font-style="normal"  stroke="#333" stroke-width="0.25">0.05</text>
<text x="426.00" y="361.80" font-size="7.6" text-anchor="middle" fill="#333" font-weight="normal" font-style="normal"  stroke="#333" stroke-width="0.25">0.1</text>
<text x="465.00" y="361.80" font-size="7.6" text-anchor="middle" fill="#333" font-weight="normal" font-style="normal"  stroke="#333" stroke-width="0.25">0.5</text>
<text x="503.00" y="361.80" font-size="7.6" text-anchor="middle" fill="#333" font-weight="normal" font-style="normal"  stroke="#333" stroke-width="0.25">1</text>
<text x="393.00" y="228.30" font-size="12.8" text-anchor="middle" fill="#222" font-weight="normal" font-style="normal"  stroke="#222" stroke-width="0.25">JAK inhibitor I</text>
<text transform="translate(283.1,293.7) rotate(-90)" font-size="9.1" text-anchor="middle" fill="#333" stroke="#333" stroke-width="0.2">Growth (%)</text>
<text x="410.00" y="374.30" font-size="9.1" text-anchor="middle" fill="#333" font-weight="normal" font-style="normal"  stroke="#333" stroke-width="0.25">Concentration inhibitor (μM)</text>
<rect x="461.40" y="221.00" width="9.80" height="2.80" fill="#2b2b2b" stroke="#111" stroke-width="0.7" />
<text x="472.60" y="224.70" font-size="6.3" text-anchor="start" fill="#333" font-weight="normal" font-style="normal"  stroke="#333" stroke-width="0.25">SEC31A-ALK</text>
<rect x="461.40" y="230.50" width="9.80" height="2.80" fill="#8e8e8e" stroke="#111" stroke-width="0.7" />
<text x="472.60" y="234.20" font-size="6.3" text-anchor="start" fill="#333" font-weight="normal" font-style="normal"  stroke="#333" stroke-width="0.25">JAK2<tspan font-size="4.5" dy="-2.5">V617F</tspan></text>
<rect x="461.40" y="238.90" width="9.80" height="2.80" fill="#ddd" stroke="#111" stroke-width="0.7" />
<text x="472.60" y="242.60" font-size="6.3" text-anchor="start" fill="#333" font-weight="normal" font-style="normal"  stroke="#333" stroke-width="0.25">SEC31A-JAK2</text>
<text x="5.50" y="404.20" font-size="12" text-anchor="start" fill="#111" font-weight="bold" font-style="normal" stroke="#111" stroke-width="0.35">D</text>
<text x="100.00" y="404.50" font-size="11" text-anchor="end" fill="#111" font-weight="bold" font-style="italic"  stroke="#111" stroke-width="0.25">CP690550</text>
<text x="97.00" y="418.00" font-size="11" text-anchor="end" fill="#111" font-weight="bold" font-style="italic"  stroke="#111" stroke-width="0.25">(μM)</text>
<text x="357.50" y="404.50" font-size="11" text-anchor="end" fill="#111" font-weight="bold" font-style="italic"  stroke="#111" stroke-width="0.25">JAK inhibitor I</text>
<text x="355.00" y="418.50" font-size="11" text-anchor="end" fill="#111" font-weight="bold" font-style="italic"  stroke="#111" stroke-width="0.25">(μM)</text>
<linearGradient id="bg363" x1="0" y1="0" x2="0" y2="1"><stop offset="0" stop-color="#c3c3c3"/><stop offset="1" stop-color="#cdcdcd"/></linearGradient>
<rect x="103.20" y="429.20" width="103.60" height="12.60" fill="url(#bg363)" stroke="none" stroke-width="1" />
<g filter="url(#blur)">
<rect x="104.06" y="433.05" width="15.54" height="3.50" rx="1.40" fill="#666" opacity="0.30"/>
<rect x="121.33" y="433.05" width="15.54" height="3.50" rx="1.40" fill="#666" opacity="0.12"/>
<rect x="138.60" y="433.05" width="15.54" height="3.50" rx="1.40" fill="#666" opacity="0.06"/>
<rect x="155.86" y="433.05" width="15.54" height="3.50" rx="1.40" fill="#666" opacity="0.04"/>
<rect x="173.13" y="433.05" width="15.54" height="3.50" rx="1.40" fill="#666" opacity="0.08"/>
<rect x="190.40" y="433.05" width="15.54" height="3.50" rx="1.40" fill="#666" opacity="0.05"/>
</g>
<text x="98.80" y="439.40" font-size="11" text-anchor="end" fill="#222" font-weight="normal" font-style="italic"  stroke="#222" stroke-width="0.25"><tspan font-family="Liberation Serif" font-style="normal" font-size="12">α</tspan>-phospho-JAK2</text>
<rect x="103.20" y="447.60" width="103.60" height="8.20" fill="#dadada" stroke="none" stroke-width="1" />
<g filter="url(#blur)">
<rect x="104.06" y="450.60" width="15.54" height="3.00" rx="1.20" fill="#0e0e0e" opacity="0.75"/>
<rect x="121.33" y="450.60" width="15.54" height="3.00" rx="1.20" fill="#0e0e0e" opacity="0.88"/>
<rect x="138.60" y="450.60" width="15.54" height="3.00" rx="1.20" fill="#0e0e0e" opacity="1.00"/>
<rect x="155.86" y="450.60" width="15.54" height="3.00" rx="1.20" fill="#0e0e0e" opacity="1.00"/>
<rect x="173.13" y="450.60" width="15.54" height="3.00" rx="1.20" fill="#0e0e0e" opacity="0.97"/>
<rect x="190.40" y="450.60" width="15.54" height="3.00" rx="1.20" fill="#0e0e0e" opacity="1.00"/>
</g>
<text x="98.80" y="455.90" font-size="11" text-anchor="end" fill="#222" font-weight="normal" font-style="italic"  stroke="#222" stroke-width="0.25">JAK2</text>
<rect x="103.20" y="461.80" width="103.60" height="11.60" fill="#b2b2b2" stroke="none" stroke-width="1" />
<g filter="url(#blur)">
<rect x="104.06" y="464.10" width="15.54" height="2.60" rx="1.04" fill="#444" opacity="0.30"/>
<rect x="121.33" y="464.10" width="15.54" height="2.60" rx="1.04" fill="#444" opacity="0.30"/>
<rect x="138.60" y="464.10" width="15.54" height="2.60" rx="1.04" fill="#444" opacity="0.25"/>
<rect x="155.86" y="464.10" width="15.54" height="2.60" rx="1.04" fill="#444" opacity="0.25"/>
<rect x="173.13" y="464.10" width="15.54" height="2.60" rx="1.04" fill="#444" opacity="0.25"/>
<rect x="190.40" y="464.10" width="15.54" height="2.60" rx="1.04" fill="#444" opacity="0.20"/>
<rect x="104.06" y="468.40" width="15.54" height="2.60" rx="1.04" fill="#444" opacity="0.30"/>
<rect x="121.33" y="468.40" width="15.54" height="2.60" rx="1.04" fill="#444" opacity="0.30"/>
<rect x="138.60" y="468.40" width="15.54" height="2.60" rx="1.04" fill="#444" opacity="0.35"/>
<rect x="155.86" y="468.40" width="15.54" height="2.60" rx="1.04" fill="#444" opacity="0.35"/>
<rect x="173.13" y="468.40" width="15.54" height="2.60" rx="1.04" fill="#444" opacity="0.45"/>
<rect x="190.40" y="468.40" width="15.54" height="2.60" rx="1.04" fill="#444" opacity="0.40"/>
</g>
<text x="98.80" y="471.40" font-size="11" text-anchor="end" fill="#222" font-weight="normal" font-style="italic"  stroke="#222" stroke-width="0.25">SEC31A</text>
<linearGradient id="bg400" x1="0" y1="0" x2="0" y2="1"><stop offset="0" stop-color="#c4c4c4"/><stop offset="1" stop-color="#c8c8c8"/></linearGradient>
<rect x="103.20" y="479.50" width="103.60" height="16.70" fill="url(#bg400)" stroke="none" stroke-width="1" />
<g filter="url(#blur)">
<rect x="104.06" y="483.50" width="15.54" height="2.40" rx="0.96" fill="#555" opacity="0.45"/>
<rect x="121.33" y="483.50" width="15.54" height="2.40" rx="0.96" fill="#555" opacity="0.45"/>
<rect x="138.60" y="483.50" width="15.54" height="2.40" rx="0.96" fill="#555" opacity="0.40"/>
<rect x="155.86" y="483.50" width="15.54" height="2.40" rx="0.96" fill="#555" opacity="0.45"/>
<rect x="173.13" y="483.50" width="15.54" height="2.40" rx="0.96" fill="#555" opacity="0.35"/>
<rect x="190.40" y="483.50" width="15.54" height="2.40" rx="0.96" fill="#555" opacity="0.45"/>
<rect x="104.06" y="489.50" width="15.54" height="4.00" rx="1.60" fill="#0e0e0e" opacity="0.95"/>
<rect x="121.33" y="489.50" width="15.54" height="4.00" rx="1.60" fill="#0e0e0e" opacity="0.90"/>
<rect x="138.60" y="489.50" width="15.54" height="4.00" rx="1.60" fill="#0e0e0e" opacity="0.92"/>
<rect x="155.86" y="489.50" width="15.54" height="4.00" rx="1.60" fill="#0e0e0e" opacity="0.97"/>
<rect x="173.13" y="489.50" width="15.54" height="4.00" rx="1.60" fill="#0e0e0e" opacity="0.65"/>
<rect x="190.40" y="489.50" width="15.54" height="4.00" rx="1.60" fill="#0e0e0e" opacity="0.90"/>
</g>
<text x="98.80" y="491.90" font-size="11" text-anchor="end" fill="#222" font-weight="normal" font-style="italic"  stroke="#222" stroke-width="0.25"><tspan font-family="Liberation Serif" font-style="normal" font-size="12">α</tspan>-phospho-MAPK</text>
<rect x="103.20" y="503.60" width="103.60" height="15.20" fill="#e2e2e2" stroke="none" stroke-width="1" />
<g filter="url(#blur)">
<rect x="104.06" y="505.60" width="15.54" height="4.00" rx="1.60" fill="#0e0e0e" opacity="0.95"/>
<rect x="121.33" y="505.60" width="15.54" height="4.00" rx="1.60" fill="#0e0e0e" opacity="0.92"/>
<rect x="138.60" y="505.60" width="15.54" height="4.00" rx="1.60" fill="#0e0e0e" opacity="0.92"/>
<rect x="155.86" y="505.60" width="15.54" height="4.00" rx="1.60" fill="#0e0e0e" opacity="0.95"/>
<rect x="173.13" y="505.60" width="15.54" height="4.00" rx="1.60" fill="#0e0e0e" opacity="0.92"/>
<rect x="190.40" y="505.60" width="15.54" height="4.00" rx="1.60" fill="#0e0e0e" opacity="0.95"/>
<rect x="104.06" y="513.20" width="15.54" height="2.40" rx="0.96" fill="#555" opacity="0.40"/>
<rect x="121.33" y="513.20" width="15.54" height="2.40" rx="0.96" fill="#555" opacity="0.35"/>
<rect x="138.60" y="513.20" width="15.54" height="2.40" rx="0.96" fill="#555" opacity="0.35"/>
<rect x="155.86" y="513.20" width="15.54" height="2.40" rx="0.96" fill="#555" opacity="0.40"/>
<rect x="173.13" y="513.20" width="15.54" height="2.40" rx="0.96" fill="#555" opacity="0.30"/>
<rect x="190.40" y="513.20" width="15.54" height="2.40" rx="0.96" fill="#555" opacity="0.30"/>
</g>
<text x="98.80" y="515.20" font-size="11" text-anchor="end" fill="#222" font-weight="normal" font-style="italic"  stroke="#222" stroke-width="0.25">MAPK</text>
<rect x="103.20" y="523.80" width="103.60" height="16.10" fill="#a9a9a9" stroke="none" stroke-width="1" />
<g filter="url(#blur)">
<rect x="104.06" y="532.80" width="15.54" height="3.20" rx="1.28" fill="#555" opacity="0.20"/>
<rect x="121.33" y="532.80" width="15.54" height="3.20" rx="1.28" fill="#555" opacity="0.20"/>
<rect x="138.60" y="532.80" width="15.54" height="3.20" rx="1.28" fill="#555" opacity="0.12"/>
<rect x="155.86" y="532.80" width="15.54" height="3.20" rx="1.28" fill="#555" opacity="0.12"/>
<rect x="173.13" y="532.80" width="15.54" height="3.20" rx="1.28" fill="#555" opacity="0.10"/>
<rect x="190.40" y="532.80" width="15.54" height="3.20" rx="1.28" fill="#555" opacity="0.12"/>
</g>
<text x="98.80" y="535.70" font-size="11" text-anchor="end" fill="#222" font-weight="normal" font-style="italic"  stroke="#222" stroke-width="0.25"><tspan font-family="Liberation Serif" font-style="normal" font-size="12">α</tspan>-phospho-AKT</text>
<linearGradient id="bg443" x1="0" y1="0" x2="0" y2="1"><stop offset="0" stop-color="#dedede"/><stop offset="1" stop-color="#d4d4d4"/></linearGradient>
<rect x="103.20" y="547.30" width="103.60" height="12.50" fill="url(#bg443)" stroke="none" stroke-width="1" />
<g filter="url(#blur)">
<rect x="104.06" y="553.00" width="15.54" height="4.40" rx="1.76" fill="#0e0e0e" opacity="0.92"/>
<rect x="121.33" y="553.00" width="15.54" height="4.40" rx="1.76" fill="#0e0e0e" opacity="0.92"/>
<rect x="138.60" y="553.00" width="15.54" height="4.40" rx="1.76" fill="#0e0e0e" opacity="0.97"/>
<rect x="155.86" y="553.00" width="15.54" height="4.40" rx="1.76" fill="#0e0e0e" opacity="0.97"/>
<rect x="173.13" y="553.00" width="15.54" height="4.40" rx="1.76" fill="#0e0e0e" opacity="0.92"/>
<rect x="190.40" y="553.00" width="15.54" height="4.40" rx="1.76" fill="#0e0e0e" opacity="0.92"/>
</g>
<text x="98.80" y="557.50" font-size="11" text-anchor="end" fill="#222" font-weight="normal" font-style="italic"  stroke="#222" stroke-width="0.25">AKT</text>
<rect x="103.20" y="569.40" width="103.60" height="12.40" fill="#f0f0f0" stroke="none" stroke-width="1" />
<g filter="url(#blur)">
<rect x="104.06" y="571.00" width="15.54" height="4.80" rx="1.92" fill="#0e0e0e" opacity="1.00"/>
<rect x="121.33" y="571.00" width="15.54" height="4.80" rx="1.92" fill="#0e0e0e" opacity="0.95"/>
<rect x="138.60" y="571.00" width="15.54" height="4.80" rx="1.92" fill="#0e0e0e" opacity="0.42"/>
<rect x="155.86" y="571.00" width="15.54" height="4.80" rx="1.92" fill="#0e0e0e" opacity="0.25"/>
<rect x="173.13" y="571.00" width="15.54" height="4.80" rx="1.92" fill="#0e0e0e" opacity="0.07"/>
<rect x="190.40" y="571.00" width="15.54" height="4.80" rx="1.92" fill="#0e0e0e" opacity="0.05"/>
<rect x="104.06" y="576.00" width="15.54" height="3.60" rx="1.44" fill="#2a2a2a" opacity="0.85"/>
<rect x="121.33" y="576.00" width="15.54" height="3.60" rx="1.44" fill="#2a2a2a" opacity="0.70"/>
<rect x="138.60" y="576.00" width="15.54" height="3.60" rx="1.44" fill="#2a2a2a" opacity="0.32"/>
<rect x="155.86" y="576.00" width="15.54" height="3.60" rx="1.44" fill="#2a2a2a" opacity="0.20"/>
<rect x="173.13" y="576.00" width="15.54" height="3.60" rx="1.44" fill="#2a2a2a" opacity="0.04"/>
<rect x="190.40" y="576.00" width="15.54" height="3.60" rx="1.44" fill="#2a2a2a" opacity="0.03"/>
</g>
<text x="98.80" y="580.30" font-size="11" text-anchor="end" fill="#222" font-weight="normal" font-style="italic"  stroke="#222" stroke-width="0.25"><tspan font-family="Liberation Serif" font-style="normal" font-size="12">α</tspan>-phospho-STAT3</text>
<rect x="103.20" y="587.80" width="103.60" height="10.60" fill="#e4e4e4" stroke="none" stroke-width="1" />
<g filter="url(#blur)">
<rect x="104.06" y="590.60" width="15.54" height="4.80" rx="1.92" fill="#1e1e1e" opacity="0.75"/>
<rect x="121.33" y="590.60" width="15.54" height="4.80" rx="1.92" fill="#1e1e1e" opacity="0.75"/>
<rect x="138.60" y="590.60" width="15.54" height="4.80" rx="1.92" fill="#1e1e1e" opacity="0.72"/>
<rect x="155.86" y="590.60" width="15.54" height="4.80" rx="1.92" fill="#1e1e1e" opacity="0.72"/>
<rect x="173.13" y="590.60" width="15.54" height="4.80" rx="1.92" fill="#1e1e1e" opacity="0.88"/>
<rect x="190.40" y="590.60" width="15.54" height="4.80" rx="1.92" fill="#1e1e1e" opacity="0.97"/>
</g>
<text x="98.80" y="597.90" font-size="11" text-anchor="end" fill="#222" font-weight="normal" font-style="italic"  stroke="#222" stroke-width="0.25">STAT3</text>
<linearGradient id="bg480" x1="0" y1="0" x2="0" y2="1"><stop offset="0" stop-color="#e9e9e9"/><stop offset="1" stop-color="#e2e2e2"/></linearGradient>
<rect x="103.20" y="605.20" width="103.60" height="12.60" fill="url(#bg480)" stroke="none" stroke-width="1" />
<g filter="url(#blur)">
<rect x="104.06" y="607.70" width="15.54" height="3.00" rx="1.20" fill="#1a1a1a" opacity="0.95"/>
<rect x="121.33" y="607.70" width="15.54" height="3.00" rx="1.20" fill="#1a1a1a" opacity="0.85"/>
<rect x="138.60" y="607.70" width="15.54" height="3.00" rx="1.20" fill="#1a1a1a" opacity="0.15"/>
<rect x="155.86" y="607.70" width="15.54" height="3.00" rx="1.20" fill="#1a1a1a" opacity="0.06"/>
<rect x="104.06" y="611.10" width="15.54" height="3.60" rx="1.44" fill="#555" opacity="0.35"/>
<rect x="121.33" y="611.10" width="15.54" height="3.60" rx="1.44" fill="#555" opacity="0.30"/>
<rect x="138.60" y="611.10" width="15.54" height="3.60" rx="1.44" fill="#555" opacity="0.04"/>
</g>
<text x="98.80" y="615.70" font-size="11" text-anchor="end" fill="#222" font-weight="normal" font-style="italic"  stroke="#222" stroke-width="0.25"><tspan font-family="Liberation Serif" font-style="normal" font-size="12">α</tspan>-phospho-STAT5</text>
<rect x="103.20" y="625.30" width="103.60" height="13.10" fill="#d9d9d9" stroke="none" stroke-width="1" />
<g filter="url(#blur)">
<rect x="104.06" y="626.40" width="15.54" height="4.00" rx="1.60" fill="#0e0e0e" opacity="0.97"/>
<rect x="121.33" y="626.40" width="15.54" height="4.00" rx="1.60" fill="#0e0e0e" opacity="0.97"/>
<rect x="138.60" y="626.40" width="15.54" height="4.00" rx="1.60" fill="#0e0e0e" opacity="0.97"/>
<rect x="155.86" y="626.40" width="15.54" height="4.00" rx="1.60" fill="#0e0e0e" opacity="0.97"/>
<rect x="173.13" y="626.40" width="15.54" height="4.00" rx="1.60" fill="#0e0e0e" opacity="0.97"/>
<rect x="190.40" y="626.40" width="15.54" height="4.00" rx="1.60" fill="#0e0e0e" opacity="0.97"/>
<rect x="104.06" y="632.80" width="15.54" height="4.00" rx="1.60" fill="#222" opacity="0.82"/>
<rect x="121.33" y="632.80" width="15.54" height="4.00" rx="1.60" fill="#222" opacity="0.82"/>
<rect x="138.60" y="632.80" width="15.54" height="4.00" rx="1.60" fill="#222" opacity="0.80"/>
<rect x="155.86" y="632.80" width="15.54" height="4.00" rx="1.60" fill="#222" opacity="0.80"/>
<rect x="173.13" y="632.80" width="15.54" height="4.00" rx="1.60" fill="#222" opacity="0.70"/>
<rect x="190.40" y="632.80" width="15.54" height="4.00" rx="1.60" fill="#222" opacity="0.60"/>
</g>
<text x="98.80" y="635.90" font-size="11" text-anchor="end" fill="#222" font-weight="normal" font-style="italic"  stroke="#222" stroke-width="0.25">STAT5</text>
<rect x="359.60" y="429.40" width="104.20" height="10.60" fill="#b6b6b6" stroke="none" stroke-width="1" />
<g filter="url(#blur)">
<rect x="360.47" y="431.75" width="15.63" height="3.50" rx="1.40" fill="#555" opacity="0.40"/>
<rect x="377.84" y="431.75" width="15.63" height="3.50" rx="1.40" fill="#555" opacity="0.15"/>
<rect x="395.20" y="431.75" width="15.63" height="3.50" rx="1.40" fill="#555" opacity="0.10"/>
<rect x="412.57" y="431.75" width="15.63" height="3.50" rx="1.40" fill="#555" opacity="0.05"/>
<rect x="429.94" y="431.75" width="15.63" height="3.50" rx="1.40" fill="#555" opacity="0.05"/>
<rect x="447.30" y="431.75" width="15.63" height="3.50" rx="1.40" fill="#555" opacity="0.10"/>
</g>
<text x="355.30" y="439.40" font-size="11" text-anchor="end" fill="#222" font-weight="normal" font-style="italic"  stroke="#222" stroke-width="0.25"><tspan font-family="Liberation Serif" font-style="normal" font-size="12">α</tspan>-phospho-JAK2</text>
<rect x="359.60" y="446.50" width="104.20" height="9.50" fill="#d2d2d2" stroke="none" stroke-width="1" />
<g filter="url(#blur)">
<rect x="360.47" y="449.80" width="15.63" height="2.80" rx="1.12" fill="#2a2a2a" opacity="0.35"/>
<rect x="377.84" y="449.80" width="15.63" height="2.80" rx="1.12" fill="#2a2a2a" opacity="0.40"/>
<rect x="395.20" y="449.80" width="15.63" height="2.80" rx="1.12" fill="#2a2a2a" opacity="0.40"/>
<rect x="412.57" y="449.80" width="15.63" height="2.80" rx="1.12" fill="#2a2a2a" opacity="0.65"/>
<rect x="429.94" y="449.80" width="15.63" height="2.80" rx="1.12" fill="#2a2a2a" opacity="0.60"/>
<rect x="447.30" y="449.80" width="15.63" height="2.80" rx="1.12" fill="#2a2a2a" opacity="0.75"/>
</g>
<text x="355.30" y="455.20" font-size="11" text-anchor="end" fill="#222" font-weight="normal" font-style="italic"  stroke="#222" stroke-width="0.25">JAK2</text>
<rect x="359.60" y="462.60" width="104.20" height="10.60" fill="#b0b0b0" stroke="none" stroke-width="1" />
<g filter="url(#blur)">
<rect x="360.47" y="464.75" width="15.63" height="2.50" rx="1.00" fill="#444" opacity="0.30"/>
<rect x="377.84" y="464.75" width="15.63" height="2.50" rx="1.00" fill="#444" opacity="0.30"/>
<rect x="395.20" y="464.75" width="15.63" height="2.50" rx="1.00" fill="#444" opacity="0.30"/>
<rect x="412.57" y="464.75" width="15.63" height="2.50" rx="1.00" fill="#444" opacity="0.30"/>
<rect x="429.94" y="464.75" width="15.63" height="2.50" rx="1.00" fill="#444" opacity="0.20"/>
<rect x="447.30" y="464.75" width="15.63" height="2.50" rx="1.00" fill="#444" opacity="0.25"/>
<rect x="360.47" y="468.75" width="15.63" height="2.50" rx="1.00" fill="#444" opacity="0.25"/>
<rect x="377.84" y="468.75" width="15.63" height="2.50" rx="1.00" fill="#444" opacity="0.25"/>
<rect x="395.20" y="468.75" width="15.63" height="2.50" rx="1.00" fill="#444" opacity="0.25"/>
<rect x="412.57" y="468.75" width="15.63" height="2.50" rx="1.00" fill="#444" opacity="0.25"/>
<rect x="429.94" y="468.75" width="15.63" height="2.50" rx="1.00" fill="#444" opacity="0.18"/>
<rect x="447.30" y="468.75" width="15.63" height="2.50" rx="1.00" fill="#444" opacity="0.22"/>
</g>
<text x="355.30" y="471.40" font-size="11" text-anchor="end" fill="#222" font-weight="normal" font-style="italic"  stroke="#222" stroke-width="0.25">SEC31A</text>
<rect x="359.60" y="479.90" width="104.20" height="15.90" fill="#cecece" stroke="none" stroke-width="1" />
<g filter="url(#blur)">
<rect x="360.47" y="482.90" width="15.63" height="2.80" rx="1.12" fill="#333" opacity="0.70"/>
<rect x="377.84" y="482.90" width="15.63" height="2.80" rx="1.12" fill="#333" opacity="0.50"/>
<rect x="395.20" y="482.90" width="15.63" height="2.80" rx="1.12" fill="#333" opacity="0.50"/>
<rect x="412.57" y="482.90" width="15.63" height="2.80" rx="1.12" fill="#333" opacity="0.35"/>
<rect x="429.94" y="482.90" width="15.63" height="2.80" rx="1.12" fill="#333" opacity="0.15"/>
<rect x="447.30" y="482.90" width="15.63" height="2.80" rx="1.12" fill="#333" opacity="0.15"/>
<rect x="360.47" y="489.40" width="15.63" height="4.00" rx="1.60" fill="#0e0e0e" opacity="1.00"/>
<rect x="377.84" y="489.40" width="15.63" height="4.00" rx="1.60" fill="#0e0e0e" opacity="0.95"/>
<rect x="395.20" y="489.40" width="15.63" height="4.00" rx="1.60" fill="#0e0e0e" opacity="0.95"/>
<rect x="412.57" y="489.40" width="15.63" height="4.00" rx="1.60" fill="#0e0e0e" opacity="0.85"/>
<rect x="429.94" y="489.40" width="15.63" height="4.00" rx="1.60" fill="#0e0e0e" opacity="0.35"/>
<rect x="447.30" y="489.40" width="15.63" height="4.00" rx="1.60" fill="#0e0e0e" opacity="0.35"/>
</g>
<text x="355.30" y="492.50" font-size="11" text-anchor="end" fill="#222" font-weight="normal" font-style="italic"  stroke="#222" stroke-width="0.25"><tspan font-family="Liberation Serif" font-style="normal" font-size="12">α</tspan>-phospho-MAPK</text>
<rect x="359.60" y="502.90" width="104.20" height="16.10" fill="#e0e0e0" stroke="none" stroke-width="1" />
<g filter="url(#blur)">
<rect x="360.47" y="504.80" width="15.63" height="4.00" rx="1.60" fill="#0e0e0e" opacity="0.95"/>
<rect x="377.84" y="504.80" width="15.63" height="4.00" rx="1.60" fill="#0e0e0e" opacity="0.95"/>
<rect x="395.20" y="504.80" width="15.63" height="4.00" rx="1.60" fill="#0e0e0e" opacity="0.95"/>
<rect x="412.57" y="504.80" width="15.63" height="4.00" rx="1.60" fill="#0e0e0e" opacity="0.95"/>
<rect x="429.94" y="504.80" width="15.63" height="4.00" rx="1.60" fill="#0e0e0e" opacity="0.95"/>
<rect x="447.30" y="504.80" width="15.63" height="4.00" rx="1.60" fill="#0e0e0e" opacity="0.95"/>
<rect x="360.47" y="513.75" width="15.63" height="2.50" rx="1.00" fill="#444" opacity="0.40"/>
<rect x="377.84" y="513.75" width="15.63" height="2.50" rx="1.00" fill="#444" opacity="0.35"/>
<rect x="395.20" y="513.75" width="15.63" height="2.50" rx="1.00" fill="#444" opacity="0.40"/>
<rect x="412.57" y="513.75" width="15.63" height="2.50" rx="1.00" fill="#444" opacity="0.40"/>
<rect x="429.94" y="513.75" width="15.63" height="2.50" rx="1.00" fill="#444" opacity="0.35"/>
<rect x="447.30" y="513.75" width="15.63" height="2.50" rx="1.00" fill="#444" opacity="0.45"/>
</g>
<text x="355.30" y="514.50" font-size="11" text-anchor="end" fill="#222" font-weight="normal" font-style="italic"  stroke="#222" stroke-width="0.25">MAPK</text>
<rect x="359.60" y="523.40" width="104.20" height="21.10" fill="#c8c8c8" stroke="none" stroke-width="1" />
<g filter="url(#blur)">
<rect x="360.47" y="525.30" width="15.63" height="3.00" rx="1.20" fill="#666" opacity="0.12"/>
<rect x="377.84" y="525.30" width="15.63" height="3.00" rx="1.20" fill="#666" opacity="0.12"/>
<rect x="395.20" y="525.30" width="15.63" height="3.00" rx="1.20" fill="#666" opacity="0.12"/>
<rect x="412.57" y="525.30" width="15.63" height="3.00" rx="1.20" fill="#666" opacity="0.12"/>
<rect x="429.94" y="525.30" width="15.63" height="3.00" rx="1.20" fill="#666" opacity="0.08"/>
<rect x="447.30" y="525.30" width="15.63" height="3.00" rx="1.20" fill="#666" opacity="0.08"/>
<rect x="360.47" y="536.30" width="15.63" height="4.00" rx="1.60" fill="#555" opacity="0.22"/>
<rect x="377.84" y="536.30" width="15.63" height="4.00" rx="1.60" fill="#555" opacity="0.22"/>
<rect x="395.20" y="536.30" width="15.63" height="4.00" rx="1.60" fill="#555" opacity="0.20"/>
<rect x="412.57" y="536.30" width="15.63" height="4.00" rx="1.60" fill="#555" opacity="0.20"/>
<rect x="429.94" y="536.30" width="15.63" height="4.00" rx="1.60" fill="#555" opacity="0.15"/>
<rect x="447.30" y="536.30" width="15.63" height="4.00" rx="1.60" fill="#555" opacity="0.15"/>
</g>
<circle cx="379.8" cy="538.5" r="2.1" fill="none" stroke="#111" stroke-width="1.4"/>
<text x="355.30" y="537.80" font-size="11" text-anchor="end" fill="#222" font-weight="normal" font-style="italic"  stroke="#222" stroke-width="0.25"><tspan font-family="Liberation Serif" font-style="normal" font-size="12">α</tspan>-phospho-AKT</text>
<rect x="359.60" y="548.90" width="104.20" height="14.80" fill="#d2d2d2" stroke="none" stroke-width="1" />
<g filter="url(#blur)">
<rect x="360.47" y="555.30" width="15.63" height="4.80" rx="1.92" fill="#0e0e0e" opacity="0.88"/>
<rect x="377.84" y="555.30" width="15.63" height="4.80" rx="1.92" fill="#0e0e0e" opacity="0.88"/>
<rect x="395.20" y="555.30" width="15.63" height="4.80" rx="1.92" fill="#0e0e0e" opacity="0.90"/>
<rect x="412.57" y="555.30" width="15.63" height="4.80" rx="1.92" fill="#0e0e0e" opacity="0.95"/>
<rect x="429.94" y="555.30" width="15.63" height="4.80" rx="1.92" fill="#0e0e0e" opacity="0.90"/>
<rect x="447.30" y="555.30" width="15.63" height="4.80" rx="1.92" fill="#0e0e0e" opacity="0.95"/>
<rect x="395.20" y="550.30" width="15.63" height="1.80" rx="0.72" fill="#666" opacity="0.25"/>
<rect x="412.57" y="550.30" width="15.63" height="1.80" rx="0.72" fill="#666" opacity="0.25"/>
</g>
<text x="355.30" y="560.70" font-size="11" text-anchor="end" fill="#222" font-weight="normal" font-style="italic"  stroke="#222" stroke-width="0.25">AKT</text>
<rect x="359.60" y="568.40" width="104.20" height="14.80" fill="#e8e8e8" stroke="none" stroke-width="1" />
<g filter="url(#blur)">
<rect x="360.47" y="571.10" width="15.63" height="4.40" rx="1.76" fill="#0e0e0e" opacity="1.00"/>
<rect x="377.84" y="571.10" width="15.63" height="4.40" rx="1.76" fill="#0e0e0e" opacity="0.97"/>
<rect x="395.20" y="571.10" width="15.63" height="4.40" rx="1.76" fill="#0e0e0e" opacity="0.95"/>
<rect x="412.57" y="571.10" width="15.63" height="4.40" rx="1.76" fill="#0e0e0e" opacity="0.80"/>
<rect x="429.94" y="571.10" width="15.63" height="4.40" rx="1.76" fill="#0e0e0e" opacity="0.07"/>
<rect x="447.30" y="571.10" width="15.63" height="4.40" rx="1.76" fill="#0e0e0e" opacity="0.05"/>
<rect x="360.47" y="576.80" width="15.63" height="3.60" rx="1.44" fill="#2a2a2a" opacity="0.80"/>
<rect x="377.84" y="576.80" width="15.63" height="3.60" rx="1.44" fill="#2a2a2a" opacity="0.75"/>
<rect x="395.20" y="576.80" width="15.63" height="3.60" rx="1.44" fill="#2a2a2a" opacity="0.70"/>
<rect x="412.57" y="576.80" width="15.63" height="3.60" rx="1.44" fill="#2a2a2a" opacity="0.55"/>
<rect x="429.94" y="576.80" width="15.63" height="3.60" rx="1.44" fill="#2a2a2a" opacity="0.06"/>
<rect x="447.30" y="576.80" width="15.63" height="3.60" rx="1.44" fill="#2a2a2a" opacity="0.04"/>
</g>
<text x="355.30" y="580.30" font-size="11" text-anchor="end" fill="#222" font-weight="normal" font-style="italic"  stroke="#222" stroke-width="0.25"><tspan font-family="Liberation Serif" font-style="normal" font-size="12">α</tspan>-phospho-STAT3</text>
<rect x="359.60" y="589.50" width="104.20" height="8.90" fill="#e0e0e0" stroke="none" stroke-width="1" />
<g filter="url(#blur)">
<rect x="360.47" y="591.85" width="15.63" height="4.30" rx="1.72" fill="#1e1e1e" opacity="0.72"/>
<rect x="377.84" y="591.85" width="15.63" height="4.30" rx="1.72" fill="#1e1e1e" opacity="0.68"/>
<rect x="395.20" y="591.85" width="15.63" height="4.30" rx="1.72" fill="#1e1e1e" opacity="0.68"/>
<rect x="412.57" y="591.85" width="15.63" height="4.30" rx="1.72" fill="#1e1e1e" opacity="0.68"/>
<rect x="429.94" y="591.85" width="15.63" height="4.30" rx="1.72" fill="#1e1e1e" opacity="0.72"/>
<rect x="447.30" y="591.85" width="15.63" height="4.30" rx="1.72" fill="#1e1e1e" opacity="0.90"/>
</g>
<text x="355.30" y="598.30" font-size="11" text-anchor="end" fill="#222" font-weight="normal" font-style="italic"  stroke="#222" stroke-width="0.25">STAT3</text>
<rect x="359.60" y="604.40" width="104.20" height="14.60" fill="#e4e4e4" stroke="none" stroke-width="1" />
<g filter="url(#blur)">
<rect x="360.47" y="607.60" width="15.63" height="3.60" rx="1.44" fill="#0e0e0e" opacity="1.00"/>
<rect x="377.84" y="607.60" width="15.63" height="3.60" rx="1.44" fill="#0e0e0e" opacity="0.95"/>
<rect x="395.20" y="607.60" width="15.63" height="3.60" rx="1.44" fill="#0e0e0e" opacity="0.75"/>
<rect x="412.57" y="607.60" width="15.63" height="3.60" rx="1.44" fill="#0e0e0e" opacity="0.30"/>
<rect x="360.47" y="611.20" width="15.63" height="4.00" rx="1.60" fill="#444" opacity="0.40"/>
<rect x="377.84" y="611.20" width="15.63" height="4.00" rx="1.60" fill="#444" opacity="0.38"/>
<rect x="395.20" y="611.20" width="15.63" height="4.00" rx="1.60" fill="#444" opacity="0.28"/>
<rect x="412.57" y="611.20" width="15.63" height="4.00" rx="1.60" fill="#444" opacity="0.10"/>
</g>
<text x="355.30" y="616.30" font-size="11" text-anchor="end" fill="#222" font-weight="normal" font-style="italic"  stroke="#222" stroke-width="0.25"><tspan font-family="Liberation Serif" font-style="normal" font-size="12">α</tspan>-phospho-STAT5</text>
<rect x="359.60" y="624.90" width="104.20" height="14.40" fill="#d8d8d8" stroke="none" stroke-width="1" />
<g filter="url(#blur)">
<rect x="360.47" y="627.40" width="15.63" height="4.00" rx="1.60" fill="#0e0e0e" opacity="0.97"/>
<rect x="377.84" y="627.40" width="15.63" height="4.00" rx="1.60" fill="#0e0e0e" opacity="0.97"/>
<rect x="395.20" y="627.40" width="15.63" height="4.00" rx="1.60" fill="#0e0e0e" opacity="0.97"/>
<rect x="412.57" y="627.40" width="15.63" height="4.00" rx="1.60" fill="#0e0e0e" opacity="0.97"/>
<rect x="429.94" y="627.40" width="15.63" height="4.00" rx="1.60" fill="#0e0e0e" opacity="0.97"/>
<rect x="447.30" y="627.40" width="15.63" height="4.00" rx="1.60" fill="#0e0e0e" opacity="0.97"/>
<rect x="360.47" y="632.80" width="15.63" height="4.20" rx="1.68" fill="#262626" opacity="0.80"/>
<rect x="377.84" y="632.80" width="15.63" height="4.20" rx="1.68" fill="#262626" opacity="0.80"/>
<rect x="395.20" y="632.80" width="15.63" height="4.20" rx="1.68" fill="#262626" opacity="0.75"/>
<rect x="412.57" y="632.80" width="15.63" height="4.20" rx="1.68" fill="#262626" opacity="0.75"/>
<rect x="429.94" y="632.80" width="15.63" height="4.20" rx="1.68" fill="#262626" opacity="0.65"/>
<rect x="447.30" y="632.80" width="15.63" height="4.20" rx="1.68" fill="#262626" opacity="0.65"/>
</g>
<text x="355.30" y="635.90" font-size="11" text-anchor="end" fill="#222" font-weight="normal" font-style="italic"  stroke="#222" stroke-width="0.25">STAT5</text>
<text x="209.50" y="439.30" font-size="8.8" text-anchor="start" fill="#222" font-weight="normal" font-style="italic"  stroke="#222" stroke-width="0.25">158 kDA</text>
<text x="465.40" y="439.30" font-size="8.8" text-anchor="start" fill="#222" font-weight="normal" font-style="italic"  stroke="#222" stroke-width="0.25">158 kDA</text>
<text x="209.50" y="454.80" font-size="8.8" text-anchor="start" fill="#222" font-weight="normal" font-style="italic"  stroke="#222" stroke-width="0.25">158 kDA</text>
<text x="465.40" y="454.80" font-size="8.8" text-anchor="start" fill="#222" font-weight="normal" font-style="italic"  stroke="#222" stroke-width="0.25">158 kDA</text>
<text x="209.50" y="470.80" font-size="8.8" text-anchor="start" fill="#222" font-weight="normal" font-style="italic"  stroke="#222" stroke-width="0.25">158 kDA</text>
<text x="465.40" y="470.80" font-size="8.8" text-anchor="start" fill="#222" font-weight="normal" font-style="italic"  stroke="#222" stroke-width="0.25">158 kDA</text>
<text transform="translate(114.50,427.50) rotate(-90)" font-size="10.8" fill="#222" stroke="#222" stroke-width="0.25">0</text>
<text transform="translate(133.50,427.50) rotate(-90)" font-size="10.8" fill="#222" stroke="#222" stroke-width="0.25">0.1</text>
<text transform="translate(151.00,427.50) rotate(-90)" font-size="10.8" fill="#222" stroke="#222" stroke-width="0.25">0.5</text>
<text transform="translate(168.50,427.50) rotate(-90)" font-size="10.8" fill="#222" stroke="#222" stroke-width="0.25">1</text>
<text transform="translate(186.00,427.50) rotate(-90)" font-size="10.8" fill="#222" stroke="#222" stroke-width="0.25">5</text>
<text transform="translate(203.50,427.50) rotate(-90)" font-size="10.8" fill="#222" stroke="#222" stroke-width="0.25">10</text>
<text transform="translate(371.00,427.00) rotate(-90)" font-size="10.8" fill="#222" stroke="#222" stroke-width="0.25">0</text>
<text transform="translate(388.50,427.00) rotate(-90)" font-size="10.8" fill="#222" stroke="#222" stroke-width="0.25">0.01</text>
<text transform="translate(406.00,427.00) rotate(-90)" font-size="10.8" fill="#222" stroke="#222" stroke-width="0.25">0.05</text>
<text transform="translate(423.50,427.00) rotate(-90)" font-size="10.8" fill="#222" stroke="#222" stroke-width="0.25">0.1</text>
<text transform="translate(441.50,427.00) rotate(-90)" font-size="10.8" fill="#222" stroke="#222" stroke-width="0.25">0.5</text>
<text transform="translate(458.50,427.00) rotate(-90)" font-size="10.8" fill="#222" stroke="#222" stroke-width="0.25">1</text>
</svg></body></html>
